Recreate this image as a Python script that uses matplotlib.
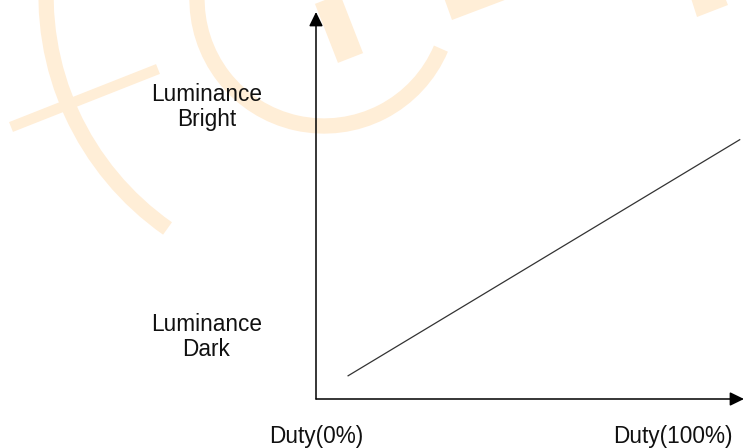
import matplotlib
matplotlib.use("Agg")
import matplotlib.pyplot as plt
from matplotlib.patches import Arc, Polygon
from matplotlib.transforms import ScaledTranslation

# values (duty in %, luminance in % of the drawn range)
duty = [7.5, 99]
luminance = [6, 67]

x_ticks = [0, 100]
x_labels = ["Duty(0%)", "Duty(100%)"]
y_ticks = [16.8, 76.3]
y_labels = ["Luminance\nDark", "Luminance\nBright"]

W, H = 744, 448
mark_color = "#FFEED7"
font = "Liberation Sans"
font_size = 16.3


def drawWatermark(fig):
    # faint logo shapes behind the chart, in pixel units
    bg = fig.add_axes([0, 0, 1, 1], zorder=0)
    bg.set_xlim(0, W)
    bg.set_ylim(H, 0)
    bg.axis("off")
    bg.add_patch(Arc((331, -5), 570, 570, theta1=125, theta2=186,
                     color=mark_color, lw=11))
    bg.add_patch(Arc((324, -1), 254, 254, theta1=23, theta2=182,
                     color=mark_color, lw=11))
    bg.plot([11, 158], [127, 69], color=mark_color, lw=7.6, solid_capstyle="butt")
    bg.plot([324, 350.5], [-10, 58], color=mark_color, lw=19.4, solid_capstyle="butt")
    bg.add_patch(Polygon([(443, -5), (452, 20), (518, -5)], closed=True,
                         color=mark_color, lw=0))
    bg.add_patch(Polygon([(690, -5), (697, 17), (728, 5), (724, -5)], closed=True,
                         color=mark_color, lw=0))


fig = plt.figure(figsize=(W / 100.0, H / 100.0), dpi=100)
fig.patch.set_facecolor("white")
drawWatermark(fig)

left, right, bottom, top = 316, 744, 399, 12
ax = fig.add_axes([left / W, (H - bottom) / H, (right - left) / W, (bottom - top) / H], zorder=1)
ax.patch.set_alpha(0)
ax.set_xlim(0, 100)
ax.set_ylim(0, 100)
for side in ["left", "bottom", "right", "top"]:
    ax.spines[side].set_visible(False)

# axes with arrow heads
arrow = dict(arrowstyle="-|>,head_length=0.45,head_width=0.22", color="black",
             lw=1.1, shrinkA=0, shrinkB=0, mutation_scale=19)
ax.annotate("", xy=(0, 1), xytext=(0, 0), xycoords="axes fraction", arrowprops=arrow)
ax.annotate("", xy=(1, 0), xytext=(0, 0), xycoords="axes fraction", arrowprops=arrow)

ax.plot(duty, luminance, color="#333333", lw=0.9)

ax.set_xticks(x_ticks)
ax.set_xticklabels(x_labels, fontsize=font_size, family=font, color="#111111")
ax.set_yticks(y_ticks)
ax.set_yticklabels(y_labels, fontsize=font_size, family=font, color="#111111",
                   linespacing=1.1)
ax.tick_params(axis="x", length=0, pad=19)
ax.tick_params(axis="y", length=0, pad=39)
for lab in ax.get_yticklabels():
    lab.set_multialignment("center")
last = ax.get_xticklabels()[-1]
last.set_horizontalalignment("right")
last.set_transform(last.get_transform() + ScaledTranslation(-11 / 100.0, 0, fig.dpi_scale_trans))

fig.savefig("out.png", dpi=100, facecolor="white")
